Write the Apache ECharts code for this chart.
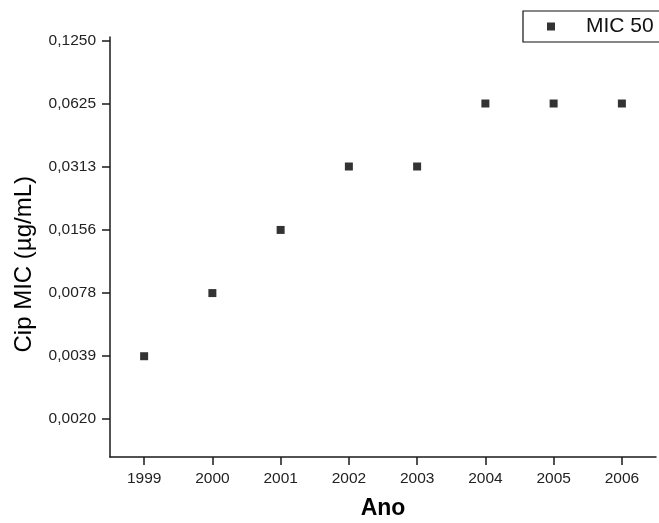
<!DOCTYPE html>
<html>
<head>
<meta charset="utf-8">
<script src="https://cdn.jsdelivr.net/npm/echarts@6/dist/echarts.min.js"></script>
<style>
html,body{margin:0;padding:0;background:#fff;}
#chart{width:659px;height:523px;}
</style>
</head>
<body>
<div id="chart"></div>
<script>
var years = ['1999','2000','2001','2002','2003','2004','2005','2006'];
var mic50 = [0.0039, 0.0078, 0.0156, 0.0313, 0.0313, 0.0625, 0.0625, 0.0625];
var yTickValues = [0.001953125, 0.00390625, 0.0078125, 0.015625, 0.03125, 0.0625, 0.125];
var yTickLabels = ['0,0020','0,0039','0,0078','0,0156','0,0313','0,0625','0,1250'];
var yMinValue = 0.00129;
var yMaxValue = 0.1297;
var seriesName = 'MIC 50';
var xTitle = 'Ano';
var yTitle = 'Cip MIC (\u00B5g/mL)';

var yTickLog = yTickValues.map(function(v){ return Math.log2(v); });
var dataLog = mic50.map(function(v, i){ return [years[i], Math.log2(v)]; });

var chart = echarts.init(document.getElementById('chart'), null, {renderer:'canvas'});
var font = '"Liberation Sans", Arial, sans-serif';
var axisColor = '#1a1a1a';
chart.setOption({
  animation: false,
  backgroundColor: '#fff',
  textStyle: {fontFamily: font},
  grid: {left: 110, right: 3, top: 37, bottom: 66, containLabel: false, outerBoundsMode: 'none'},
  legend: {
    show: true,
    data: [seriesName],
    left: 523, top: 11,
    orient: 'horizontal',
    icon: 'rect',
    itemWidth: 8, itemHeight: 8,
    padding: [5, 12, 5, 24],
    borderColor: '#111', borderWidth: 1.2,
    textStyle: {fontFamily: font, fontSize: 21, color: '#111', padding: [0,0,0,26]}
  },
  xAxis: {
    type: 'category',
    data: years,
    boundaryGap: true,
    name: xTitle,
    nameLocation: 'middle',
    nameGap: 40,
    nameTextStyle: {fontFamily: font, fontSize: 23, fontWeight: 'bold', color: '#000'},
    axisLine: {show: true, lineStyle: {color: axisColor, width: 1.5}},
    axisTick: {show: true, alignWithLabel: true, length: 8, lineStyle: {color: axisColor, width: 1.5}},
    axisLabel: {fontFamily: font, fontSize: 15.5, color: '#222', margin: 14},
    splitLine: {show: false}
  },
  yAxis: {
    type: 'value',
    min: Math.log2(yMinValue),
    max: Math.log2(yMaxValue),
    axisLine: {show: true, lineStyle: {color: axisColor, width: 1.5}},
    axisTick: {show: true, length: 8, customValues: yTickLog, lineStyle: {color: axisColor, width: 1.5}},
    axisLabel: {
      fontFamily: font, fontSize: 15.5, color: '#222', margin: 14,
      customValues: yTickLog,
      formatter: function(v){
        var best = 0, bd = Infinity;
        for (var i = 0; i < yTickLog.length; i++) {
          var d = Math.abs(yTickLog[i] - v);
          if (d < bd) { bd = d; best = i; }
        }
        return yTickLabels[best];
      }
    },
    splitLine: {show: false}
  },
  graphic: [{
    type: 'text',
    left: 12, top: 176,
    rotation: Math.PI / 2,
    originX: 0, originY: 0,
    style: {
      text: yTitle,
      fontFamily: font, fontSize: 24, fill: '#000',
      textAlign: 'center', textVerticalAlign: 'middle'
    }
  }],
  series: [{
    name: seriesName,
    type: 'scatter',
    data: dataLog,
    symbol: 'rect',
    symbolSize: 8,
    itemStyle: {color: '#000'}
  }]
});
</script>
</body>
</html>
